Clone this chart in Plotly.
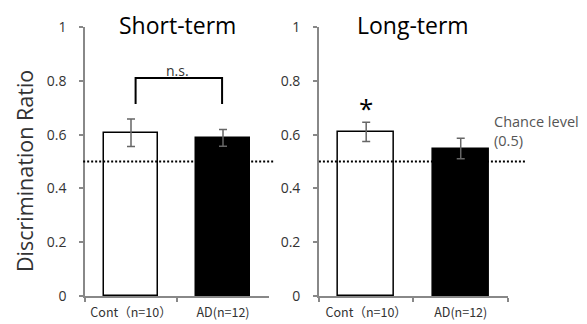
import plotly.graph_objects as go

groups = ["Cont（n=10）", "AD(n=12)"]
short_vals = [0.607, 0.588]
short_err = [0.051, 0.031]
long_vals = [0.610, 0.548]
long_err = [0.036, 0.038]
chance = 0.5
yticks = [0, 0.2, 0.4, 0.6, 0.8, 1]
yticklabels = ["0", "0.2", "0.4", "0.6", "0.8", "1"]

bar_colors = ["white", "black"]
FONT = "Open Sans"

# page body has an 8px default margin; compensate so plot lands at page px
OFF = 8
FIG_W, FIG_H = 587 - 2 * OFF, 324 - OFF
L, T = 85 - OFF, 27 - OFF
R = (FIG_W + OFF) - 508
B = (FIG_H + OFF) - 296
PW = 508 - 85
PH = 296 - 27

fig = go.Figure()
for vals, errs, xa, ya in [(short_vals, short_err, "x", "y"), (long_vals, long_err, "x2", "y2")]:
    fig.add_trace(go.Bar(
        x=groups, y=vals, xaxis=xa, yaxis=ya, width=0.59,
        marker=dict(color=bar_colors, line=dict(color="black", width=1.5)),
        error_y=dict(type="data", array=errs, visible=True, color="#666", thickness=1.5, width=4),
        showlegend=False, hoverinfo="skip",
    ))

axis_common = dict(showline=True, linecolor="#888", linewidth=1.5, ticks="outside",
                   tickcolor="#888", ticklen=4, tickwidth=1.5, showgrid=False, zeroline=False,
                   automargin=False)

xfont = dict(size=12.5, family="Noto Sans CJK JP", color="#333")
fig.update_layout(
    width=FIG_W, height=FIG_H, margin=dict(l=L, r=R, t=T, b=B),
    paper_bgcolor="white", plot_bgcolor="white",
    font=dict(family=FONT, color="#333"),
    xaxis=dict(domain=[0, 0.435], type="category", range=[-0.5, 1.5], tickson="boundaries",
               tickfont=xfont, ticklabelstandoff=4, **axis_common),
    xaxis2=dict(domain=[0.553, 1], type="category", range=[-0.5, 1.5], tickson="boundaries",
                tickfont=xfont, ticklabelstandoff=4, **axis_common),
    yaxis=dict(range=[0, 1], tickvals=yticks, ticktext=yticklabels, tickfont=dict(size=14),
               ticklabelstandoff=10, anchor="x", **axis_common),
    yaxis2=dict(range=[0, 1], tickvals=yticks, ticktext=yticklabels, tickfont=dict(size=14),
                ticklabelstandoff=10, anchor="x2", **axis_common),
    bargap=0,
)

# chance-level dotted lines
fig.add_shape(type="line", xref="x domain", yref="y", x0=-0.01, x1=1.03, y0=chance, y1=chance,
              line=dict(color="black", width=2, dash="2px,2px"))
fig.add_shape(type="line", xref="x2 domain", yref="y2", x0=0, x1=1.1, y0=chance, y1=chance,
              line=dict(color="black", width=2, dash="2px,2px"))

# n.s. bracket
fig.add_shape(type="path", xref="x", yref="y",
              path="M 0.05,0.714 L 0.05,0.81 L 0.99,0.81 L 0.99,0.714",
              line=dict(color="black", width=2))

fig.add_annotation(text="n.s.", xref="x", yref="y", x=0.5, y=0.84, yanchor="middle",
                   showarrow=False, font=dict(size=14, color="#333"))
fig.add_annotation(text="*", xref="x2", yref="y2", x=0, y=0.623, yanchor="bottom",
                   showarrow=False, font=dict(size=26, color="black"))
fig.add_annotation(text="Chance level<br>(0.5)", xref="paper", yref="paper",
                   x=(492 - 85) / PW, y=(296 - 131) / PH, xanchor="left", yanchor="middle",
                   align="left", showarrow=False, font=dict(size=14.5, color="#555"))

# y-axis title
fig.add_annotation(text="Discrimination Ratio", xref="paper", yref="paper",
                   x=(24 - 85) / PW, y=(296 - 171) / PH, textangle=-90,
                   xanchor="center", yanchor="middle", showarrow=False,
                   font=dict(size=21.5, color="#333"))

# panel titles
fig.add_annotation(text="Short-term", xref="x domain", yref="paper", x=0.5, y=(296 - 25) / PH,
                   yanchor="middle", showarrow=False, font=dict(size=23, color="black"))
fig.add_annotation(text="Long-term", xref="x2 domain", yref="paper", x=0.5, y=(296 - 25) / PH,
                   yanchor="middle", showarrow=False, font=dict(size=23, color="black"))

fig.write_html("out.html")
